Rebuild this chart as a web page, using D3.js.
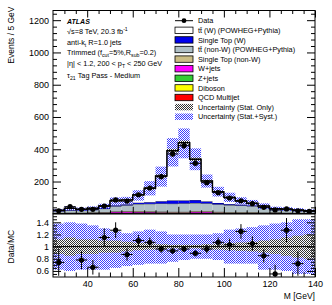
<!DOCTYPE html>
<html>
<head>
<meta charset="utf-8">
<script src="https://cdn.jsdelivr.net/npm/d3@7"></script>
<style>
  body { margin: 0; background: #fff; }
  svg { font-family: "Liberation Sans", Arial, sans-serif; }
  .tick text { font-size: 9px; }
</style>
</head>
<body>
<svg width="332" height="305"></svg>
<script>
// bin low edges (GeV), 5 GeV wide
const binLow = [25, 30, 35, 40, 45, 50, 55, 60, 65, 70, 75, 80, 85, 90, 95, 100, 105, 110, 115, 120, 125, 130, 135];

const data    = [19, 44, 28, 28, 48, 86, 79, 118, 160, 230, 371, 422, 313, 193, 131, 98, 81, 63, 40, 24, 30, 19, 15];
const dataErr = [4, 7, 5, 5, 7, 9, 9, 11, 13, 15, 19, 21, 18, 14, 11, 10, 9, 8, 6, 5, 5, 4, 4];

// MC stack components, bottom to top
const qcd     = [2, 3, 3, 3, 3, 4, 5, 6, 6, 5, 4, 4, 5, 5, 4, 3, 3, 3, 3, 4, 3, 2, 2];
const diboson = [0.5, 0.5, 0.5, 0.5, 0.5, 0.5, 0.5, 0.5, 0.5, 0.5, 0.5, 0.5, 0.5, 0.5, 0.5, 0.5, 0.5, 0.5, 0.5, 0.5, 0.5, 0.5, 0.5];
const zjets   = [0.5, 0.5, 0.5, 0.5, 0.5, 0.5, 0.5, 0.5, 0.5, 0.5, 0.5, 0.5, 0.5, 0.5, 0.5, 0.5, 0.5, 0.5, 0.5, 0.5, 0.5, 0.5, 0.5];
const wjets   = [1, 1, 1, 2, 3, 6, 7, 5, 4, 3, 3, 3, 6, 6, 3, 2, 2, 2, 1, 1, 1, 1, 1];
const stNonW  = [2, 2, 2, 3, 3, 4, 4, 5, 5, 5, 5, 5, 5, 5, 5, 4, 4, 4, 3, 3, 2, 2, 2];
const ttNonW  = [8, 14, 13, 16, 22, 32, 36, 44, 46, 50, 50, 52, 50, 48, 46, 44, 42, 38, 32, 20, 18, 14, 10];
const stW     = [1, 2, 2, 3, 4, 6, 6, 8, 10, 14, 20, 18, 18, 12, 8, 6, 5, 4, 3, 2, 2, 2, 1];
const ttW     = [7, 11, 6, 6, 12, 28, 27, 48, 86, 156, 308, 358, 253, 126, 70, 42, 22, 13, 5, 1, 2, 2, 2];

// relative uncertainty bands (fraction of total MC)
const statUnc = [0.12, 0.15, 0.12, 0.12, 0.1, 0.1, 0.08, 0.06, 0.05, 0.04, 0.03, 0.03, 0.03, 0.04, 0.05, 0.06, 0.07, 0.08, 0.1, 0.12, 0.15, 0.18, 0.2];
const systLo  = [0.62, 0.6, 0.62, 0.62, 0.62, 0.65, 0.68, 0.7, 0.72, 0.72, 0.75, 0.78, 0.8, 0.8, 0.78, 0.72, 0.72, 0.72, 0.62, 0.62, 0.6, 0.55, 0.55];
const systHi  = [1.38, 1.4, 1.38, 1.35, 1.3, 1.25, 1.22, 1.25, 1.28, 1.25, 1.2, 1.2, 1.2, 1.2, 1.22, 1.28, 1.3, 1.32, 1.35, 1.38, 1.4, 1.45, 1.45];

// Data/MC ratio (null = off scale)
const ratio    = [0.74, null, 0.78, 0.66, 1.15, 1.27, 0.87, 1.1, 1.07, 0.96, 0.93, 0.96, 0.89, 0.96, 1.07, 1.03, 1.25, 1.05, 0.85, 0.55, 1.27, 0.72, null];
const ratioErr = [0.22, 0.2, 0.15, 0.12, 0.15, 0.13, 0.1, 0.09, 0.08, 0.06, 0.05, 0.05, 0.05, 0.07, 0.08, 0.1, 0.12, 0.12, 0.11, 0.15, 0.2, 0.2, 0.25];

const yTicksMain = [200, 400, 600, 800, 1000, 1200];
const yTicksRatio = [0.6, 0.8, 1, 1.2, 1.4];
const xTicks = [40, 60, 80, 100, 120, 140];

const layers = [
  { key: "qcd", vals: qcd, color: "#ff0000", label: "QCD Multijet" },
  { key: "dib", vals: diboson, color: "#ffff00", label: "Diboson" },
  { key: "z", vals: zjets, color: "#33cc33", label: "Z+jets" },
  { key: "w", vals: wjets, color: "#ff00ff", label: "W+jets" },
  { key: "stn", vals: stNonW, color: "#cbbd85", label: "Single Top (non-W)" },
  { key: "ttn", vals: ttNonW, color: "#b0c0c6", label: "tt\u0304 (non-W) (POWHEG+Pythia)" },
  { key: "stw", vals: stW, color: "#0000ee", label: "Single Top (W)" },
  { key: "ttw", vals: ttW, color: "#ffffff", label: "tt\u0304 (W) (POWHEG+Pythia)" }
];

const svg = d3.select("svg");
const L = 53, R = 315, T = 10.5, MB = 213.8, RB = 277;

const x = d3.scaleLinear().domain([25, 140]).range([L, R]);
const y = d3.scaleLinear().domain([0, 1260]).range([MB, T]);
const yr = d3.scaleLinear().domain([0.5, 1.54]).range([RB, MB]);

// hatch patterns (checker)
const defs = svg.append("defs");
function checker(id, color) {
  const p = defs.append("pattern").attr("id", id).attr("width", 2).attr("height", 2)
    .attr("patternUnits", "userSpaceOnUse");
  p.append("rect").attr("x", 0).attr("y", 0).attr("width", 1).attr("height", 1).attr("fill", color);
  p.append("rect").attr("x", 1).attr("y", 1).attr("width", 1).attr("height", 1).attr("fill", color);
}
checker("hSyst", "#3c3cff");
checker("hStat", "#333333");
defs.append("clipPath").attr("id", "clipMain").append("rect")
  .attr("x", L).attr("y", T).attr("width", R - L).attr("height", MB - T);
defs.append("clipPath").attr("id", "clipRatio").append("rect")
  .attr("x", L).attr("y", MB).attr("width", R - L).attr("height", RB - MB);

// stack
const rows = binLow.map((b, i) => {
  const r = { b };
  layers.forEach(l => r[l.key] = l.vals[i]);
  return r;
});
const stacked = d3.stack().keys(layers.map(l => l.key))(rows);
const total = rows.map(r => d3.sum(layers, l => r[l.key]));

function stepPoints(vals) {
  const pts = [];
  binLow.forEach((b, i) => { pts.push([b, vals[i]]); pts.push([b + 5, vals[i]]); });
  return pts;
}

const main = svg.append("g").attr("clip-path", "url(#clipMain)");

stacked.forEach((s, li) => {
  main.append("g").selectAll("rect").data(s).enter().append("rect")
    .attr("x", d => x(d.data.b))
    .attr("width", d => x(d.data.b + 5) - x(d.data.b))
    .attr("y", d => y(d[1]))
    .attr("height", d => y(d[0]) - y(d[1]))
    .attr("fill", layers[li].color);
  main.append("path")
    .attr("d", d3.line().x(p => x(p[0])).y(p => y(p[1]))(stepPoints(s.map(d => d[1]))))
    .attr("fill", "none").attr("stroke", "#000").attr("stroke-width", 0.6);
});

// uncertainty bands on the stack
main.append("g").selectAll("rect").data(binLow).enter().append("rect")
  .attr("x", (b) => x(b)).attr("width", b => x(b + 5) - x(b))
  .attr("y", (b, i) => y(total[i] * systHi[i]))
  .attr("height", (b, i) => y(total[i] * systLo[i]) - y(total[i] * systHi[i]))
  .attr("fill", "url(#hSyst)");
main.append("g").selectAll("rect").data(binLow).enter().append("rect")
  .attr("x", (b) => x(b)).attr("width", b => x(b + 5) - x(b))
  .attr("y", (b, i) => y(total[i] * (1 + statUnc[i])))
  .attr("height", (b, i) => y(total[i] * (1 - statUnc[i])) - y(total[i] * (1 + statUnc[i])))
  .attr("fill", "url(#hStat)");

main.append("path")
  .attr("d", d3.line().x(p => x(p[0])).y(p => y(p[1]))(stepPoints(total)))
  .attr("fill", "none").attr("stroke", "#000").attr("stroke-width", 1.4);

// data points
const dg = main.append("g");
binLow.forEach((b, i) => {
  const cx = x(b + 2.5), cy = y(data[i]);
  dg.append("line").attr("x1", x(b)).attr("x2", x(b + 5)).attr("y1", cy).attr("y2", cy)
    .attr("stroke", "#000").attr("stroke-width", 1);
  dg.append("line").attr("x1", cx).attr("x2", cx)
    .attr("y1", y(data[i] - dataErr[i])).attr("y2", y(data[i] + dataErr[i]))
    .attr("stroke", "#000").attr("stroke-width", 1);
  dg.append("circle").attr("cx", cx).attr("cy", cy).attr("r", 2.6).attr("fill", "#000");
});

// ratio panel
const rg = svg.append("g").attr("clip-path", "url(#clipRatio)");
rg.append("g").selectAll("rect").data(binLow).enter().append("rect")
  .attr("x", b => x(b)).attr("width", b => x(b + 5) - x(b))
  .attr("y", (b, i) => yr(systHi[i]))
  .attr("height", (b, i) => yr(systLo[i]) - yr(systHi[i]))
  .attr("fill", "url(#hSyst)");
rg.append("g").selectAll("rect").data(binLow).enter().append("rect")
  .attr("x", b => x(b)).attr("width", b => x(b + 5) - x(b))
  .attr("y", (b, i) => yr(1 + statUnc[i]))
  .attr("height", (b, i) => yr(1 - statUnc[i]) - yr(1 + statUnc[i]))
  .attr("fill", "url(#hStat)");
rg.append("line").attr("x1", L).attr("x2", R).attr("y1", yr(1)).attr("y2", yr(1))
  .attr("stroke", "#000").attr("stroke-width", 1);
binLow.forEach((b, i) => {
  if (ratio[i] === null) return;
  const cx = x(b + 2.5), cy = yr(ratio[i]);
  rg.append("line").attr("x1", x(b)).attr("x2", x(b + 5)).attr("y1", cy).attr("y2", cy)
    .attr("stroke", "#000").attr("stroke-width", 1);
  rg.append("line").attr("x1", cx).attr("x2", cx)
    .attr("y1", yr(ratio[i] - ratioErr[i])).attr("y2", yr(ratio[i] + ratioErr[i]))
    .attr("stroke", "#000").attr("stroke-width", 1);
  rg.append("circle").attr("cx", cx).attr("cy", cy).attr("r", 2.6).attr("fill", "#000");
});

// frames
svg.append("rect").attr("x", L).attr("y", T).attr("width", R - L).attr("height", MB - T)
  .attr("fill", "none").attr("stroke", "#000").attr("stroke-width", 1);
svg.append("rect").attr("x", L).attr("y", MB).attr("width", R - L).attr("height", RB - MB)
  .attr("fill", "none").attr("stroke", "#000").attr("stroke-width", 1);

// ticks (inside, mirrored)
function ticks(axisFn, scale, vals, size, tr) {
  svg.append("g").attr("transform", tr)
    .call(axisFn(scale).tickValues(vals).tickSize(size).tickFormat(""))
    .call(g => g.select(".domain").remove());
}
const xMinor = d3.range(30, 140, 5).filter(v => v % 20 !== 0);
const yMinorMain = d3.range(40, 1260, 40).filter(v => v % 200 !== 0);
const yMinorRatio = d3.range(0.55, 1.54, 0.05).filter(v => Math.abs(v * 5 - Math.round(v * 5)) > 0.01);

ticks(d3.axisTop, x, xTicks, 7, `translate(0,${MB})`);
ticks(d3.axisTop, x, xMinor, 3.5, `translate(0,${MB})`);
ticks(d3.axisBottom, x, xTicks, 7, `translate(0,${T})`);
ticks(d3.axisBottom, x, xMinor, 3.5, `translate(0,${T})`);
ticks(d3.axisTop, x, xTicks, 9, `translate(0,${RB})`);
ticks(d3.axisTop, x, xMinor, 4.5, `translate(0,${RB})`);
ticks(d3.axisRight, y, yTicksMain, 8, `translate(${L},0)`);
ticks(d3.axisRight, y, yMinorMain, 4, `translate(${L},0)`);
ticks(d3.axisLeft, y, yTicksMain, 8, `translate(${R},0)`);
ticks(d3.axisLeft, y, yMinorMain, 4, `translate(${R},0)`);
ticks(d3.axisRight, yr, yTicksRatio, 8, `translate(${L},0)`);
ticks(d3.axisRight, yr, yMinorRatio, 4, `translate(${L},0)`);
ticks(d3.axisLeft, yr, yTicksRatio, 8, `translate(${R},0)`);
ticks(d3.axisLeft, yr, yMinorRatio, 4, `translate(${R},0)`);

// tick labels
function labels(axisFn, scale, vals, fmt, tr) {
  svg.append("g").attr("transform", tr)
    .call(axisFn(scale).tickValues(vals).tickSize(0).tickPadding(4).tickFormat(fmt))
    .call(g => g.select(".domain").remove())
    .call(g => g.selectAll("text").attr("fill", "#000").style("font-family", "Liberation Sans, Arial, sans-serif"));
}
labels(d3.axisLeft, y, yTicksMain, d3.format("d"), `translate(${L},0)`);
labels(d3.axisLeft, yr, yTicksRatio, d => d === 1 ? "1" : d3.format(".1f")(d), `translate(${L},0)`);
labels(d3.axisBottom, x, xTicks, d3.format("d"), `translate(0,${RB})`);

// axis titles
svg.append("text").attr("transform", `translate(14,${T - 4}) rotate(-90)`)
  .attr("text-anchor", "end").attr("font-size", 8.5).text("Events / 5 GeV");
svg.append("text").attr("transform", `translate(14,${yr(1)}) rotate(-90)`)
  .attr("text-anchor", "middle").attr("font-size", 8.5).text("Data/MC");
svg.append("text").attr("x", R).attr("y", 299).attr("text-anchor", "end")
  .attr("font-size", 8.5).text("M [GeV]");

// ATLAS label block
const info = svg.append("g").attr("font-size", 7.3);
info.append("text").attr("x", 67).attr("y", 23.5).attr("font-weight", "bold")
  .attr("font-style", "italic").attr("font-size", 7).text("ATLAS");
const sub = 5.2, dd = 2;
const t1 = info.append("text").attr("x", 67).attr("y", 34);
t1.append("tspan").text("\u221As=8 TeV, 20.3 fb");
t1.append("tspan").attr("dy", -2.8).attr("font-size", sub).text("-1");
const t2 = info.append("text").attr("x", 67).attr("y", 44.5);
t2.append("tspan").text("anti-k");
t2.append("tspan").attr("dy", dd).attr("font-size", sub).text("t");
t2.append("tspan").attr("dy", -dd).text(" R=1.0 jets");
const t3 = info.append("text").attr("x", 67).attr("y", 55);
t3.append("tspan").text("Trimmed (f");
t3.append("tspan").attr("dy", dd).attr("font-size", sub).text("cut");
t3.append("tspan").attr("dy", -dd).text("=5%,R");
t3.append("tspan").attr("dy", dd).attr("font-size", sub).text("sub");
t3.append("tspan").attr("dy", -dd).text("=0.2)");
const t4 = info.append("text").attr("x", 67).attr("y", 65.5);
t4.append("tspan").text("|\u03B7| < 1.2,  200 < p");
t4.append("tspan").attr("dy", dd).attr("font-size", sub).text("T");
t4.append("tspan").attr("dy", -dd).text(" < 250 GeV");
const t5 = info.append("text").attr("x", 67).attr("y", 78);
t5.append("tspan").text("\u03C4");
t5.append("tspan").attr("dy", dd).attr("font-size", sub).text("21");
t5.append("tspan").attr("dy", -dd).text(" Tag Pass - Medium");

// legend
const lg = svg.append("g").attr("font-size", 7.3);
const lx = 175, lw = 18, lh = 6.4, tx = 198, ly0 = 20.7, ldy = 9.6;
lg.append("line").attr("x1", lx).attr("x2", lx + lw).attr("y1", ly0).attr("y2", ly0).attr("stroke", "#000");
lg.append("circle").attr("cx", lx + lw / 2).attr("cy", ly0).attr("r", 2.4);
lg.append("text").attr("x", tx).attr("y", ly0 + 2.6).text("Data");
const legendHists = layers.slice().reverse();
legendHists.forEach((l, i) => {
  const cy = ly0 + ldy * (i + 1);
  lg.append("rect").attr("x", lx).attr("y", cy - lh / 2).attr("width", lw).attr("height", lh)
    .attr("fill", l.color).attr("stroke", "#000").attr("stroke-width", 0.8);
  lg.append("text").attr("x", tx).attr("y", cy + 2.6).text(l.label);
});
[["hStat", "Uncertainty (Stat. Only)"], ["hSyst", "Uncertainty (Stat.+Syst.)"]].forEach((u, i) => {
  const cy = ly0 + ldy * (legendHists.length + 1 + i);
  lg.append("rect").attr("x", lx).attr("y", cy - lh / 2).attr("width", lw).attr("height", lh)
    .attr("fill", `url(#${u[0]})`);
  lg.append("text").attr("x", tx).attr("y", cy + 2.6).text(u[1]);
});
</script>
</body>
</html>
